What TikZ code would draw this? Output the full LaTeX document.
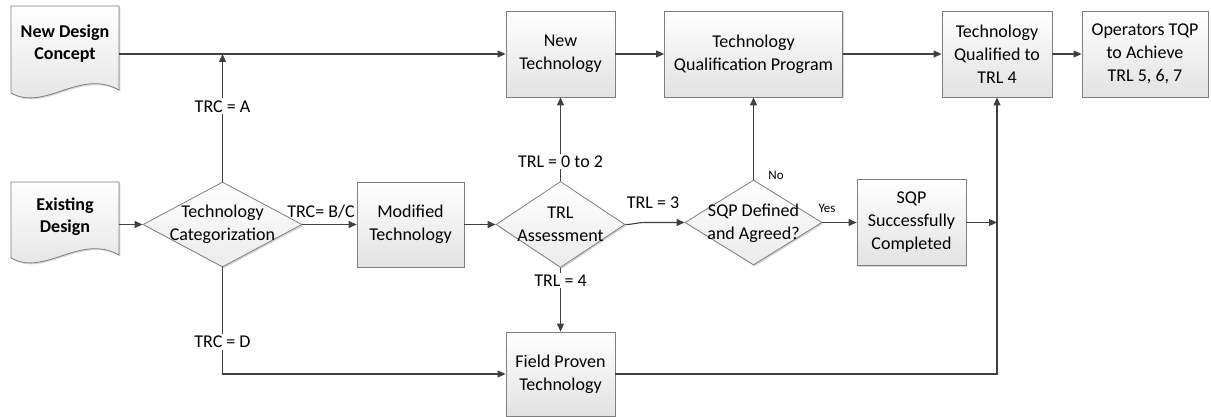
\documentclass[tikz,border=0pt]{standalone}
\usepackage{fontspec}
\setmainfont{Carlito}
\usetikzlibrary{arrows.meta,shapes.geometric,shadows,calc}
\definecolor{edge}{HTML}{7F7F7F}
\definecolor{wire}{HTML}{404040}
\definecolor{shade}{HTML}{E2E2E2}

\tikzset{
  softshadow/.style={drop shadow={shadow xshift=1.4pt, shadow yshift=-1.4pt, fill=black, opacity=0.16}},
  box/.style={rectangle, draw=edge, line width=0.8pt, top color=white, bottom color=shade,
    align=center, inner sep=0pt, softshadow},
  decision/.style={diamond, draw=edge, line width=0.8pt, top color=white, bottom color=shade!70,
    inner sep=0pt, softshadow},
  doc/.style={draw=edge, line width=0.8pt, top color=white, bottom color=shade, softshadow},
  holder/.style={rectangle, inner sep=0pt, align=center, font=\fontsize{18}{22}\selectfont\bfseries},
  inner/.style={align=center, inner sep=0pt},
  arr/.style={draw=wire, line width=1.1pt, -{Triangle[length=8pt, width=7pt]}},
  lab/.style={fill=white, inner sep=2pt},
  small/.style={font=\fontsize{13}{15}\selectfont, inner sep=0pt},
}

% document symbol: flat top, wavy bottom
\newcommand\docsymbol[3]{%
  \begin{scope}[shift={(#1,#2)}]
    \path[doc] (0,0) -- (108,0) -- (108,#3)
      .. controls (69,{#3-22}) and (34,{#3+22}) .. (0,{#3+3}) -- cycle;
  \end{scope}}

\begin{document}
\begin{tikzpicture}[x=1pt, y=-1pt, font=\fontsize{18}{23}\selectfont]
\useasboundingbox (0,0) rectangle (1211,417);

% documents
\docsymbol{11}{6}{84}
\docsymbol{11}{182}{73}
\node[holder, minimum width=108, minimum height=76] (ndc) at (65,44) {New Design\\Concept};
\node[holder, minimum width=108, minimum height=70] (ed) at (65,217) {Existing\\Design};

% process boxes
\node[box, minimum width=109, minimum height=86] (nt)  at (560.5,54) {New\\Technology};
\node[box, minimum width=178, minimum height=86] (tqp) at (753.5,54) {Technology\\Qualification Program};
\node[box, minimum width=110, minimum height=86] (tq)  at (997,54) {Technology\\Qualified to\\TRL 4};
\node[box, minimum width=126, minimum height=86] (op)  at (1145,54) {Operators TQP\\to Achieve\\TRL 5, 6, 7};
\node[box, minimum width=107, minimum height=85] (mt)  at (410.5,224.5) {Modified\\Technology};
\node[box, minimum width=109, minimum height=86] (ssc) at (911.5,222.5) {SQP\\Successfully\\Completed};
\node[box, minimum width=109, minimum height=84] (fp)  at (560.5,374) {Field Proven\\Technology};

% decisions
\node[decision, minimum width=159, minimum height=85] (tc)  at (222.5,224.5) {};
\node[decision, minimum width=129, minimum height=86] (tra) at (560.5,224.5) {};
\node[decision, minimum width=137, minimum height=85] (sqp) at (753.5,222.5) {};
\node[inner] (tctext)  at (222.5,224.5) {Technology\\Categorization};
\node[inner] (tratext) at (560.5,224.5) {TRL\\Assessment};
\node[inner] (sqptext) at (753.5,223) {SQP Defined\\and Agreed?};

% connectors
\draw[arr] (ndc.east |- nt.west) -- (nt.west);
\draw[arr] (tc.north) -- node[lab, pos=0.59] (la) {TRC = A} (tc.north |- nt.west);
\draw[arr] (ed.east |- tc.west) -- (tc.west);
\draw[arr] (tc.east) -- (mt.west);
\node[inner] (lbc) at (321,212) {TRC= B/C};
\draw[arr] (mt.east) -- (tra.west);
\draw[arr] (tra.north) -- node[lab, pos=0.235] (l02) {TRL = 0 to 2} (nt.south);
\coordinate (k3) at (645,222.5);
\draw[arr] (tra.east) to[out=0, in=180] (k3) -- (sqp.west);
\node[inner] (l3) at (653,203) {TRL = 3};
\draw[arr] (tra.south) -- node[lab, pos=0.2] (l4) {TRL = 4} (fp.north);
\draw[arr] (tc.south) -- node[lab, pos=0.7] (ld) {TRC = D} (tc.south |- fp.west) -- (fp.west);
\draw[arr] (nt.east) -- (tqp.west);
\draw[arr] (tqp.east) -- (tq.west);
\draw[arr] (tq.east) -- (op.west);
\draw[arr] (sqp.north) -- (tqp.south);
\node[small] (lno) at (776,175) {No};
\draw[arr] (sqp.east) -- (ssc.west);
\node[small] (lyes) at (827,208) {Yes};
\draw[arr] (fp.east) -- (fp.east -| tq.south) -- (tq.south);
\draw[arr] (ssc.east) -- (ssc.east -| tq.south);
\end{tikzpicture}
\end{document}
